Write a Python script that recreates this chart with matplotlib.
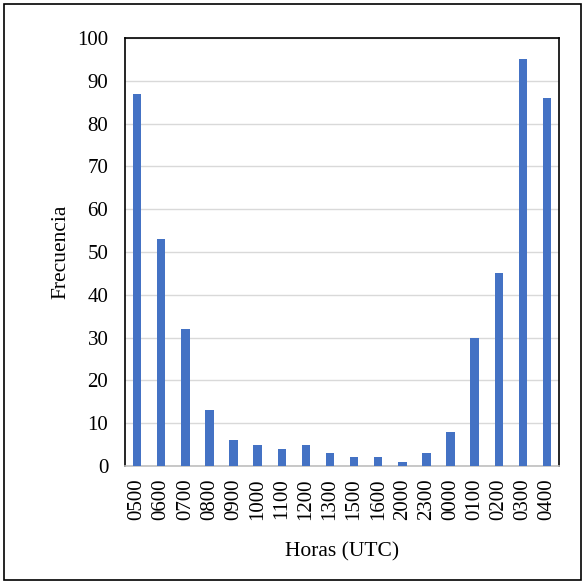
import matplotlib
matplotlib.use("Agg")
import matplotlib.pyplot as plt
import numpy as np

horas = ["0500", "0600", "0700", "0800", "0900", "1000", "1100", "1200", "1300",
         "1500", "1600", "2000", "2300", "0000", "0100", "0200", "0300", "0400"]
frecuencia = [87, 53, 32, 13, 6, 5, 4, 5, 3, 2, 2, 1, 3, 8, 30, 45, 95, 86]

plt.rcParams["font.family"] = ["Liberation Serif", "DejaVu Serif"]

fig = plt.figure(figsize=(5.85, 5.84), dpi=100)
ax = fig.add_axes([0.2137, 0.202, 0.742, 0.733])

x = np.arange(len(horas))
ax.bar(x, frecuencia, width=0.35, color="#4472C4", zorder=3)

ax.set_ylim(0, 100)
ax.set_xlim(-0.5, len(horas) - 0.5)
ax.set_yticks(range(0, 101, 10))
ax.set_xticks(x)
ax.set_xticklabels(horas, rotation=90)
ax.tick_params(axis="both", length=0, labelsize=15, colors="black")
ax.tick_params(axis="x", pad=9)
ax.tick_params(axis="y", pad=12)
ax.grid(True, axis="y", color="#D9D9D9", lw=1, zorder=0)

for s in ("left", "top", "right"):
    ax.spines[s].set_color("black")
    ax.spines[s].set_linewidth(1.2)
ax.spines["bottom"].set_color("#BFBFBF")
ax.spines["bottom"].set_linewidth(1.2)

ax.set_xlabel("Horas (UTC)", fontsize=15.5, labelpad=16)
ax.set_ylabel("Frecuencia", fontsize=15.5, labelpad=5)

fig.patches.append(plt.Rectangle((0.007, 0.007), 0.986, 0.986, transform=fig.transFigure,
                                 fill=False, edgecolor="black", lw=1.2))

fig.savefig("out.png", dpi=100)
